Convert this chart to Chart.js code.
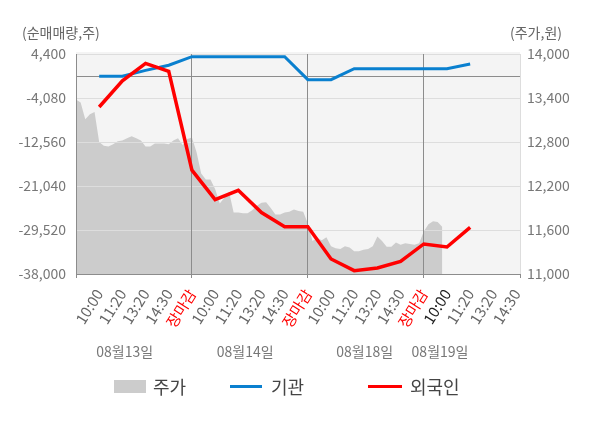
<!DOCTYPE html>
<html><head><meta charset="utf-8">
<script src="https://cdn.jsdelivr.net/npm/chart.js@4"></script>
<style>
html,body{margin:0;padding:0;background:#fff;}
#wrap{position:relative;width:600px;height:428px;overflow:hidden;}
#c{position:absolute;left:0;top:0;}
.lg{position:absolute;top:376px;height:20px;display:flex;align-items:center;font:18px "Noto Sans CJK KR","Noto Sans",sans-serif;color:#444;line-height:20px;white-space:nowrap;}
.sw{display:inline-block;}
</style></head><body>
<div id="wrap">
<canvas id="c" width="600" height="428"></canvas>
<div class="lg" style="left:114px"><span class="sw" style="width:32px;height:13px;background:#cccccc;margin-right:7px"></span>주가</div>
<div class="lg" style="left:230px"><span class="sw" style="width:32px;height:3px;background:#0a80cf;margin-right:9px"></span>기관</div>
<div class="lg" style="left:368px"><span class="sw" style="width:34px;height:3px;background:#ff0000;margin-right:8px"></span>외국인</div>
</div>
<script>
const timeLabels = ['', '10:00','11:20','13:20','14:30','장마감','10:00','11:20','13:20','14:30','장마감','10:00','11:20','13:20','14:30','장마감','10:00','11:20','13:20','14:30'];
const dayLabels = ['08월13일','08월14일','08월18일','08월19일'];
const volumeTicks = [-38000,-29520,-21040,-12560,-4080,4400];
const priceTicks = [11000,11600,12200,12800,13400,14000];
// net buying (shares) per time slot, starting at slot 1
const institution = [100,100,1240,2240,3880,3880,3880,3880,3880,-550,-550,1570,1570,1570,1570,1570,2470];
const foreign = [-5810,-780,2590,1050,-17990,-23680,-21870,-26160,-28880,-28880,-35100,-37360,-36840,-35570,-32210,-32790,-29010];
// share price (won), 5 samples per time slot starting at slot 0
const priceStep = 0.2;
const price = [13380,13340,13110,13180,13210,12800,12750,12740,12770,12810,
 12820,12850,12880,12850,12820,12740,12740,12780,12780,12780,
 12770,12820,12850,12760,12840,12860,12660,12370,12290,12290,
 12160,11960,12040,12120,11840,11840,11830,11830,11870,11930,
 11970,11980,11900,11810,11810,11840,11850,11880,11860,11850,
 11690,11450,11490,11460,11500,11380,11350,11340,11380,11360,
 11310,11310,11330,11340,11380,11510,11450,11370,11370,11430,
 11400,11420,11410,11400,11420,11580,11680,11720,11710,11640];

const FONT = '"Noto Sans CJK KR","Noto Sans",sans-serif';
const daySep = [0,5,10,15];
const xMax = 19.15;

const bgPlugin = {
  id: 'bg',
  beforeDraw(chart) {
    const {ctx, chartArea: a} = chart;
    ctx.save();
    ctx.fillStyle = '#f4f4f4';
    ctx.fillRect(a.left, a.top - 2, a.right - a.left, a.bottom - a.top + 2);
    ctx.restore();
  }
};
const gridOverArea = {
  id: 'gridOverArea',
  afterDatasetDraw(chart, args) {
    if (args.index !== 0) return;
    ['y','x'].forEach(id => {
      const s = chart.scales[id];
      s.drawGrid(chart.chartArea);
      if (typeof s.drawBorder === 'function') s.drawBorder();
    });
  }
};
const extraText = {
  id: 'extraText',
  afterDraw(chart, args, opts) {
    const {ctx} = chart;
    const xs = chart.scales.x;
    ctx.save();
    ctx.font = '14px ' + FONT;
    ctx.fillStyle = '#777';
    ctx.textBaseline = 'middle';
    ctx.textAlign = 'center';
    dayLabels.forEach((t, i) => ctx.fillText(t, xs.getPixelForValue(opts.dayAt[i]), 352));
    ctx.fillStyle = '#666';
    ctx.textAlign = 'left';
    ctx.fillText('(순매매량,주)', 22, 33);
    ctx.textAlign = 'right';
    ctx.fillText('(주가,원)', 562, 33);
    ctx.restore();
  }
};

new Chart(document.getElementById('c'), {
  type: 'line',
  data: {
    datasets: [
      {
        label: '주가', yAxisID: 'y1', order: 3,
        data: price.map((v, i) => ({x: i * priceStep, y: v})),
        fill: 'start', backgroundColor: '#cccccc', borderWidth: 0, borderColor: 'rgba(0,0,0,0)',
        pointRadius: 0, tension: 0
      },
      {
        label: '기관', yAxisID: 'y', order: 2,
        data: institution.map((v, i) => ({x: i + 1, y: v})),
        borderColor: '#0a80cf', borderWidth: 3, pointRadius: 0, fill: false, tension: 0
      },
      {
        label: '외국인', yAxisID: 'y', order: 1,
        data: foreign.map((v, i) => ({x: i + 1, y: v})),
        borderColor: '#ff0000', borderWidth: 3.5, pointRadius: 0, fill: false, tension: 0
      }
    ]
  },
  options: {
    responsive: false,
    animation: false,
    layout: {padding: {top: 54, left: 0, right: 0, bottom: 0}},
    plugins: {
      legend: {display: false},
      tooltip: {enabled: false},
      extraText: {dayAt: [2.1, 7.3, 12.45, 15.7]}
    },
    scales: {
      x: {
        type: 'linear', min: 0, max: xMax,
        afterBuildTicks: s => { s.ticks = timeLabels.map((_, i) => ({value: i})).concat([{value: xMax}]); },
        afterFit: s => { s.height = 154; },
        ticks: {
          autoSkip: false, minRotation: 58, maxRotation: 58, padding: 8,
          font: {family: FONT, size: 15},
          callback: v => (Number.isInteger(v) && timeLabels[v]) ? timeLabels[v] : '',
          color: c => {
            const v = c.tick.value;
            if (timeLabels[v] === '장마감') return '#ff0000';
            if (v === 16) return '#222222';
            return '#666666';
          }
        },
        grid: {
          color: c => daySep.includes(c.tick.value) ? '#8c8c8c' : (c.tick.value > 19 ? '#dddddd' : 'rgba(0,0,0,0)'),
          tickColor: c => (daySep.includes(c.tick.value) || c.tick.value > 19) ? '#8c8c8c' : 'rgba(0,0,0,0)',
          tickLength: 4, lineWidth: 1
        },
        border: {display: true, color: '#8c8c8c'}
      },
      y: {
        type: 'linear', position: 'left', min: -38000, max: 4400,
        afterBuildTicks: s => { s.ticks = volumeTicks.concat([0]).sort((a, b) => a - b).map(v => ({value: v})); },
        afterFit: s => { s.width = 76; },
        ticks: {
          padding: 10, color: '#777', font: {family: FONT, size: 14},
          callback: v => v === 0 ? '' : v.toLocaleString('en-US')
        },
        grid: {
          color: c => c.tick.value === 0 ? '#8c8c8c' : '#dddddd',
          drawTicks: false, lineWidth: 1
        },
        border: {display: true, color: '#8c8c8c'}
      },
      y1: {
        type: 'linear', position: 'right', min: 11000, max: 14000,
        afterBuildTicks: s => { s.ticks = priceTicks.map(v => ({value: v})); },
        afterFit: s => { s.width = 80; },
        ticks: {
          padding: 7, color: '#777', font: {family: FONT, size: 14},
          callback: v => v.toLocaleString('en-US')
        },
        grid: {drawOnChartArea: false, drawTicks: false},
        border: {display: true, color: '#dddddd'}
      }
    }
  },
  plugins: [bgPlugin, gridOverArea, extraText]
});
</script>
</body></html>
